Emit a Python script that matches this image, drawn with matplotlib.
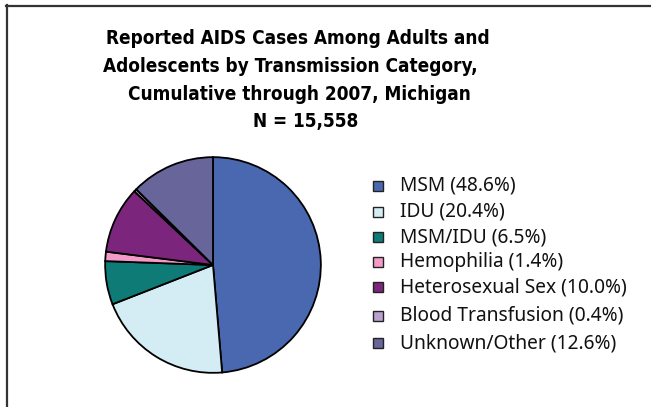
import matplotlib
matplotlib.use("Agg")
import matplotlib.pyplot as plt
from matplotlib.patches import Rectangle
from matplotlib.lines import Line2D

categories = ["MSM", "IDU", "MSM/IDU", "Hemophilia", "Heterosexual Sex",
              "Blood Transfusion", "Unknown/Other"]
shares = [48.6, 20.4, 6.5, 1.4, 10.0, 0.4, 12.6]
colors = ["#4a68b0", "#d4edf4", "#0e7b76", "#f39ac8", "#7b267c",
          "#b9a0cf", "#67659a"]
title_lines = ["Reported AIDS Cases Among Adults and",
               "Adolescents by Transmission Category,",
               "Cumulative through 2007, Michigan",
               "N = 15,558"]

W, H = 651, 407
fig = plt.figure(figsize=(W / 100, H / 100), dpi=100)

# frame lines (left and top only)
fig.add_artist(Line2D([7 / W, 7 / W], [0, 1 - 5 / H], color="#333333", lw=1.6))
fig.add_artist(Line2D([6 / W, 1], [1 - 6 / H, 1 - 6 / H], color="#333333", lw=1.6))

# title
title_x = [298, 290, 299, 306]
title_y = [38, 66, 94, 121]
for line, tx, ty in zip(title_lines, title_x, title_y):
    fig.text(tx / W, 1 - ty / H, line, ha="center", va="center",
             fontsize=13.6, fontweight="bold", family="DejaVu Sans",
             fontstretch="condensed")

# pie
cx, cy, r = 213, 265, 110
ax = fig.add_axes([(cx - r) / W, (H - cy - r) / H, 2 * r / W, 2 * r / H])
ax.pie(shares, colors=colors, startangle=90, counterclock=False,
       wedgeprops=dict(edgecolor="black", linewidth=1.3))
ax.set_xlim(-1.02, 1.02)
ax.set_ylim(-1.02, 1.02)
ax.set_aspect("equal")
ax.axis("off")

# legend
row_y = [186, 212, 237, 262, 287, 316, 343]
for name, val, col, ry in zip(categories, shares, colors, row_y):
    fig.add_artist(Rectangle((373 / W, 1 - (ry + 5) / H), 10 / W, 10 / H,
                             facecolor=col, edgecolor="#222222", lw=1.0,
                             transform=fig.transFigure))
    fig.text(400 / W, 1 - ry / H, f"{name} ({val:.1f}%)", ha="left",
             va="center", fontsize=13.8, color="#111111", family="Noto Sans")

fig.savefig("out.png", dpi=100)
